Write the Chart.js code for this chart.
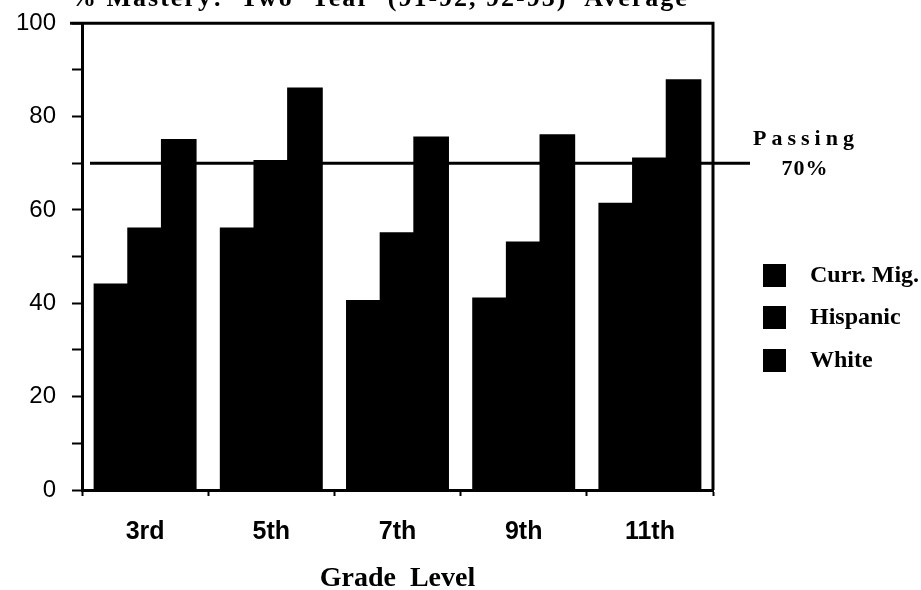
<!DOCTYPE html>
<html>
<head>
<meta charset="utf-8">
<script src="https://cdn.jsdelivr.net/npm/chart.js@4.4.1/dist/chart.umd.min.js"></script>
<style>
  html, body { margin: 0; padding: 0; background: #ffffff; }
  #wrap { width: 921px; height: 590px; }
</style>
</head>
<body>
<div id="wrap"><canvas id="c" width="921" height="590"></canvas></div>
<script>
// ---- data ----
const categories = ['3rd', '5th', '7th', '9th', '11th'];
const seriesNames = ['Curr. Mig.', 'Hispanic', 'White'];
const currMig  = [44, 56, 40.5, 41, 61.3];
const hispanic = [56, 70.5, 55, 53, 71];
const white    = [75, 86, 75.5, 76, 87.8];
const passingLevel = 70;
const passingLabel = ['Passing', '70%'];
const titleText = '% Mastery:  Two  Year  (91-92, 92-93)  Average';
const xAxisTitle = 'Grade  Level';

const serif = '"Liberation Serif", "Times New Roman", serif';
const sans = '"Liberation Sans", Arial, sans-serif';

const decorPlugin = {
  id: 'decor',
  afterDatasetsDraw(chart) {
    const ctx = chart.ctx;
    const { left, top, right, bottom } = chart.chartArea;
    const yScale = chart.scales.y;
    ctx.save();
    // frame: top and right lines
    ctx.strokeStyle = '#000';
    ctx.lineWidth = 3;
    ctx.beginPath();
    ctx.moveTo(left - 12, top);
    ctx.lineTo(right, top);
    ctx.lineTo(right, bottom);
    ctx.stroke();
    // passing line
    const py = yScale.getPixelForValue(passingLevel);
    ctx.lineWidth = 3;
    ctx.beginPath();
    ctx.moveTo(left + 8, py);
    ctx.lineTo(right + 37, py);
    ctx.stroke();
    // passing label
    ctx.fillStyle = '#000';
    ctx.textAlign = 'center';
    ctx.textBaseline = 'middle';
    ctx.font = 'bold 22px ' + serif;
    try { ctx.letterSpacing = '5px'; } catch (e) {}
    ctx.fillText(passingLabel[0], right + 93, py - 24);
    try { ctx.letterSpacing = '1px'; } catch (e) {}
    ctx.fillText(passingLabel[1], right + 92, py + 6);
    try { ctx.letterSpacing = '0px'; } catch (e) {}
    // legend
    const legendY = [275, 317, 360];
    ctx.textAlign = 'left';
    ctx.font = 'bold 24px ' + serif;
    chart.data.datasets.forEach((ds, i) => {
      ctx.fillStyle = ds.backgroundColor;
      ctx.fillRect(right + 50, legendY[i] - 11, 23, 23);
      ctx.fillStyle = '#000';
      ctx.fillText(ds.label, right + 97, legendY[i] + 1);
    });
    // clipped title
    ctx.textAlign = 'left';
    ctx.textBaseline = 'alphabetic';
    ctx.font = 'bold 26px ' + serif;
    try { ctx.letterSpacing = '2px'; } catch (e) {}
    ctx.fillText(titleText, 70, 6);
    try { ctx.letterSpacing = '0px'; } catch (e) {}
    ctx.restore();
  }
};

new Chart(document.getElementById('c'), {
  type: 'bar',
  data: {
    labels: categories,
    datasets: [
      { label: seriesNames[0], data: currMig,  backgroundColor: '#000000' },
      { label: seriesNames[1], data: hispanic, backgroundColor: '#000000' },
      { label: seriesNames[2], data: white,    backgroundColor: '#000000' }
    ]
  },
  options: {
    responsive: false,
    animation: false,
    devicePixelRatio: 1,
    layout: { padding: { left: 0, top: 22, right: 208, bottom: 0 } },
    datasets: { bar: { categoryPercentage: 0.8, barPercentage: 1.0, borderWidth: 0, inflateAmount: 1 } },
    plugins: {
      legend: { display: false },
      tooltip: { enabled: false },
      title: { display: false }
    },
    scales: {
      x: {
        afterFit: (s) => { s.height = 100; },
        grid: { display: true, drawOnChartArea: false, offset: true, tickLength: 6, tickColor: '#000', tickWidth: 2 },
        border: { display: true, color: '#000', width: 3 },
        ticks: { color: '#000', font: { family: sans, size: 25, weight: 'bold' }, padding: 21 },
        title: {
          display: true, text: xAxisTitle, color: '#000',
          font: { family: serif, size: 28, weight: 'bold' },
          padding: { top: 0, bottom: -6 }
        }
      },
      y: {
        min: 0, max: 100,
        afterFit: (s) => { s.width = 82; },
        grid: { display: true, drawOnChartArea: false, tickLength: 10, tickColor: '#000', tickWidth: 2 },
        border: { display: true, color: '#000', width: 3 },
        ticks: {
          stepSize: 10, autoSkip: false, color: '#000', padding: 16,
          font: { family: sans, size: 24, lineHeight: 0.6 },
          callback: (v) => (v % 20 === 0 ? String(v) : '')
        }
      }
    }
  },
  plugins: [decorPlugin]
});
</script>
</body>
</html>
